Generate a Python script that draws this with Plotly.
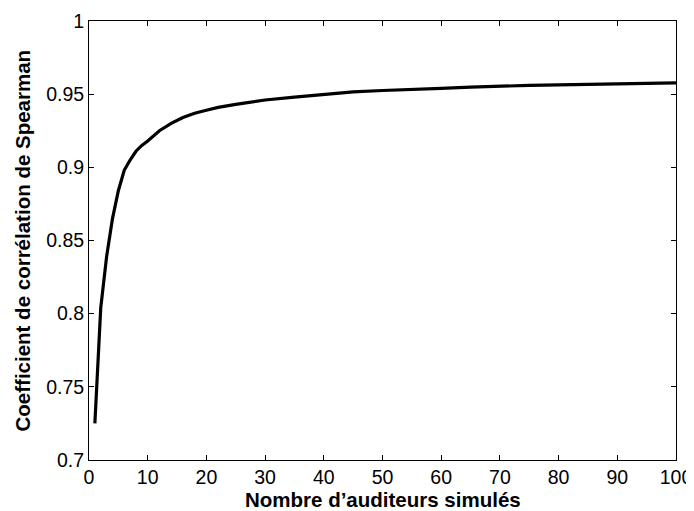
import plotly.graph_objects as go

n_auditeurs = [1, 2, 3, 4, 5, 6, 7, 8, 9, 10, 12, 14, 16, 18, 20, 22, 25, 28, 30,
               35, 40, 45, 50, 55, 60, 65, 70, 75, 80, 85, 90, 95, 100]
spearman = [0.725, 0.804, 0.839, 0.865, 0.884, 0.898, 0.905, 0.911, 0.915, 0.918,
            0.925, 0.930, 0.934, 0.937, 0.939, 0.941, 0.943, 0.945, 0.946,
            0.948, 0.950, 0.9515, 0.9525, 0.953, 0.954, 0.9548, 0.9555, 0.956,
            0.9563, 0.9566, 0.957, 0.9573, 0.9577]

x_ticks = [0, 10, 20, 30, 40, 50, 60, 70, 80, 90, 100]
y_ticks = [0.7, 0.75, 0.8, 0.85, 0.9, 0.95, 1]
y_tick_labels = ["0.7", "0.75", "0.8", "0.85", "0.9", "0.95", "1"]

x_title = "<b>Nombre d’auditeurs simulés</b>"
y_title = "<b>Coefficient de corrélation de Spearman</b>"

fig = go.Figure()
fig.add_trace(go.Scatter(x=n_auditeurs, y=spearman, mode="lines",
                         line=dict(color="black", width=3.2), showlegend=False))

axis_common = dict(showline=True, linecolor="black", linewidth=1, mirror="ticks",
                   ticks="inside", ticklen=5, tickcolor="black", showgrid=False,
                   zeroline=False, automargin=False,
                   tickfont=dict(size=19.5, color="black"))

fig.update_xaxes(range=[0, 100], tickvals=x_ticks, **axis_common)
fig.update_yaxes(range=[0.7, 1], tickvals=y_ticks, ticktext=y_tick_labels,
                 **axis_common)

fig.add_annotation(text=x_title, xref="paper", yref="paper", x=0.5, y=0,
                   yshift=-39, xanchor="center", yanchor="middle", showarrow=False,
                   font=dict(size=20.5, color="black"))
fig.add_annotation(text=y_title, xref="paper", yref="paper", x=0, y=0.5,
                   xshift=-67, xanchor="center", yanchor="middle", showarrow=False,
                   textangle=-90, font=dict(size=20.5, color="black"))

# page body has an 8px margin; size the figure to fit the 694x511 window
fig.update_layout(width=686, height=503,
                  margin=dict(l=81, r=18, t=13, b=51),
                  paper_bgcolor="white", plot_bgcolor="white",
                  font=dict(family="Liberation Sans, Arial, sans-serif", color="black"))

fig.write_html("out.html")
